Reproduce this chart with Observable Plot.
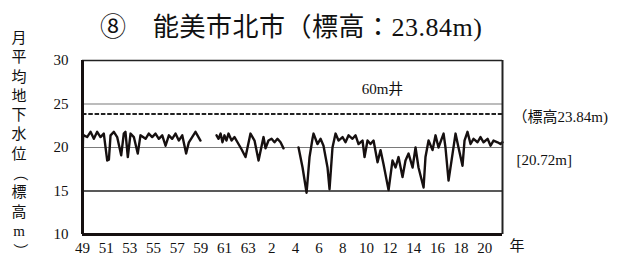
<!DOCTYPE html>
<html><head><meta charset="utf-8">
<script src="https://cdn.jsdelivr.net/npm/d3@7"></script>
<script src="https://cdn.jsdelivr.net/npm/@observablehq/plot@0.6"></script>
<style>
body{margin:0;background:#fff;}
#wrap{position:relative;width:618px;height:261px;overflow:hidden;font-family:'Liberation Serif','DejaVu Serif','Noto Sans CJK JP',serif;color:#111;}
#title{position:absolute;left:100px;top:6px;font-size:26px;white-space:nowrap;letter-spacing:0.5px;}
#ylab{position:absolute;z-index:2;left:9px;top:29px;width:20px;font-size:15px;}
#ylab div{height:19.3px;line-height:19.3px;text-align:center;}
#ylab div.rot{transform:rotate(90deg);}
#chart{position:absolute;z-index:1;left:0;top:50px;}
</style></head>
<body>
<div id="wrap">
  <div id="title">⑧　能美市北市（標高：23.84m)</div>
  <div id="chart"></div>
  <div id="ylab"></div>
</div>
<script>
// x tick positions (years) and their era labels
const tickYears = [1974,1976,1978,1980,1982,1984,1986,1988,1990,1992,1994,1996,1998,2000,2002,2004,2006,2008];
const tickLabels = ["49","51","53","55","57","59","61","63","2","4","6","8","10","12","14","16","18","20"];
const yTicks = [10,15,20,25,30];
const xDomain = [1974, 2009.5];
const yDomain = [10, 30];
const gridGray = [20, 25];
const gridDark = [15];
const elevation = 23.84;
const meanLevel = 20.72;
const yLabel = "月平均地下水位（標高m）";
const wellLabel = "60m井";
const elevLabel = "（標高23.84m)";
const meanLabel = "[20.72m]";
const unitLabel = "年";

// monthly-average groundwater level (m), NaN marks gaps in the record
const time = [
 1974.00,1974.05,1974.11,1974.39,1974.68,1974.96,1975.24,1975.52,1975.80,1976.09,1976.23,1976.37,1976.65,1976.93,1977.27,1977.49,1977.63,1977.83,1978.06,1978.34,1978.67,1978.90,1979.33,1979.60,1979.89,1980.17,1980.45,1980.74,1981.02,1981.30,1981.58,1981.86,1982.14,1982.43,1982.76,1982.99,1983.27,1983.55,1983.97,
 1984.60,
 1985.33,1985.50,1985.67,1985.83,1986.00,1986.17,1986.34,1986.60,1986.85,1987.10,1987.44,1987.78,1988.20,1988.54,1988.88,1989.30,1989.47,1989.72,1989.98,1990.23,1990.48,1990.74,1990.99,
 1991.60,
 1992.26,1992.60,1992.94,1993.19,1993.44,1993.53,1993.86,1994.12,1994.37,1994.71,1994.88,1995.13,1995.39,1995.64,1995.98,1996.23,1996.49,1996.82,1997.08,1997.33,1997.67,1997.84,1998.09,1998.34,1998.60,1998.94,1999.19,1999.44,1999.87,2000.20,2000.46,2000.71,2001.05,2001.30,2001.56,2001.90,2002.15,2002.40,2002.83,2002.99,2003.25,2003.59,2003.84,2004.09,2004.52,2004.68,2004.94,2005.28,2005.53,2005.78,2006.12,2006.29,2006.54,2006.80,2007.05,2007.39,2007.64,2007.90,2008.24,2008.49,2008.74,2009.08,2009.33,2009.50
];
const level = [
 18.1,21.5,21.4,21.2,21.8,21.0,21.8,21.2,21.6,18.5,18.6,21.4,21.8,21.2,19.1,21.6,21.8,18.9,21.6,21.2,19.3,21.4,21.0,21.6,21.2,21.6,21.0,21.4,20.2,21.4,21.0,21.6,20.8,21.4,19.3,20.6,21.2,21.8,20.8,
 NaN,
 21.4,21.0,21.6,20.6,21.4,20.8,21.6,20.8,21.2,20.6,19.8,18.9,21.6,20.8,18.5,21.2,19.9,20.8,21.0,20.6,21.0,20.6,19.9,
 NaN,
 20.0,17.7,14.8,18.9,21.0,21.6,20.4,21.0,20.2,17.7,15.2,20.0,21.6,20.8,21.2,20.6,21.4,21.0,21.4,20.4,20.8,18.9,20.8,20.4,20.8,18.3,19.7,18.1,15.1,18.5,17.7,18.9,16.6,18.5,19.3,17.7,20.0,17.7,15.4,18.9,20.8,19.7,21.4,20.0,21.6,20.0,16.2,19.3,21.6,20.0,17.9,20.8,21.8,20.4,21.0,20.6,21.2,20.6,21.0,20.2,20.8,20.6,20.4,20.6
];
const series = time.map((t, i) => ({t, v: level[i]}));

const fmt = new Map(tickYears.map((y, i) => [y, tickLabels[i]]));

// vertical y-axis title, one character per line
const ylab = document.getElementById("ylab");
for (const ch of yLabel) {
  const d = document.createElement("div");
  d.textContent = ch;
  if (ch === "（" || ch === "）") d.className = "rot";
  ylab.appendChild(d);
}

const plot = Plot.plot({
  width: 618,
  height: 211,
  marginLeft: 82,
  marginRight: 116,
  marginTop: 10,
  marginBottom: 27,
  style: {fontFamily: "'Liberation Serif','DejaVu Serif','Noto Sans CJK JP',serif", fontSize: "15px", color: "#111", background: "transparent"},
  x: {domain: xDomain, ticks: tickYears, tickFormat: d => fmt.get(d), tickSize: 0, tickPadding: 8, label: null},
  y: {domain: yDomain, ticks: yTicks, tickSize: 0, tickPadding: 14, label: null},
  marks: [
    Plot.ruleY(gridGray, {stroke: "#7a7a7a", strokeWidth: 1.2}),
    Plot.ruleY(gridDark, {stroke: "#222", strokeWidth: 1.3}),
    Plot.ruleY([elevation], {stroke: "#222", strokeWidth: 2, strokeDasharray: "4.5,1.8"}),
    Plot.line(series, {x: "t", y: "v", stroke: "#161010", strokeWidth: 2.4, strokeLinejoin: "round"}),
    Plot.ruleY([yDomain[1]], {stroke: "#222", strokeWidth: 1.4}),
    Plot.ruleX([xDomain[1]], {stroke: "#222", strokeWidth: 2}),
    Plot.ruleX([xDomain[0]], {stroke: "#161010", strokeWidth: 3}),
    Plot.ruleY([yDomain[0]], {stroke: "#161010", strokeWidth: 3}),
    Plot.text([wellLabel], {frameAnchor: "top", dx: 90, dy: 23, fontSize: 15}),
    Plot.text([elevLabel], {x: xDomain[1], y: [elevation], dx: 10, dy: 3, textAnchor: "start", fontSize: 15, clip: false}),
    Plot.text([meanLabel], {x: xDomain[1], y: [meanLevel], dx: 14, dy: 19, textAnchor: "start", fontSize: 15, letterSpacing: "2px", clip: false}),
    Plot.text([unitLabel], {frameAnchor: "bottom-right", dx: 22, dy: 16, fontSize: 15})
  ]
});
document.getElementById("chart").appendChild(plot);
</script>
</body></html>
